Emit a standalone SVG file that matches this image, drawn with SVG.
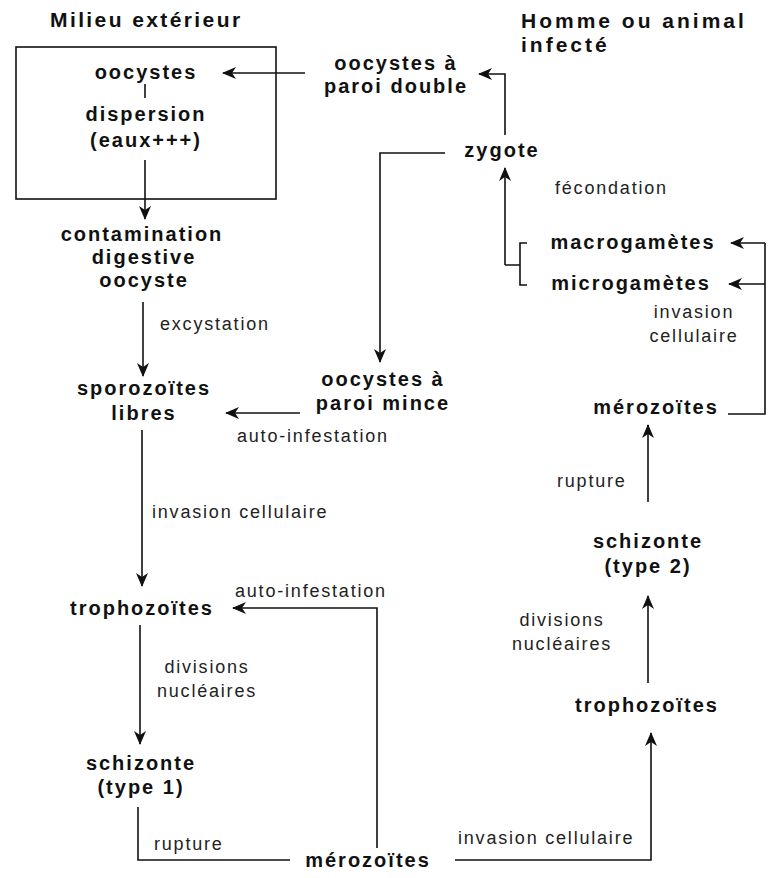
<svg xmlns="http://www.w3.org/2000/svg" width="777" height="878" viewBox="0 0 777 878">
<style>
.t{font-family:"Liberation Sans",Arial,sans-serif;font-weight:bold;font-size:21px;letter-spacing:2.4px;fill:#111}
.n{font-family:"Liberation Sans",Arial,sans-serif;font-weight:bold;font-size:20px;letter-spacing:2px;fill:#111;text-anchor:middle}
.l{font-family:"Liberation Sans",Arial,sans-serif;font-size:18px;letter-spacing:1.8px;fill:#222}
.c{fill:none;stroke:#111;stroke-width:1.6}
.a{marker-end:url(#ah)}
</style>
<defs>
<marker id="ah" viewBox="0 0 14 12" refX="13" refY="6" markerWidth="14" markerHeight="12" markerUnits="userSpaceOnUse" orient="auto">
<path d="M0,0 L14,6 L0,12 L4,6 z" fill="#111"/>
</marker>
</defs>
<rect width="777" height="878" fill="#fff"/>
<g id="titles">
<text class="t" x="50" y="27">Milieu extérieur</text>
<text class="t" x="521" y="28" style="letter-spacing:3px">Homme ou animal</text>
<text class="t" x="521" y="52" style="letter-spacing:3px">infecté</text>
</g>
<rect id="milieu-box" x="16" y="47" width="260" height="152" fill="none" stroke="#111" stroke-width="1.6"/>
<g id="connectors">
<path class="c" d="M145,84 V98"/>
<path class="c a" d="M145,160 V219"/>
<path class="c a" d="M305,73 H223"/>
<path class="c a" d="M505,135 V74 H479"/>
<path class="c a" d="M445,153 H380 V362"/>
<path class="c a" d="M505,265 V168"/>
<path class="c" d="M527,243 H520 V285 H527 M505,265 H520"/>
<path class="c a" d="M765,243 H731"/>
<path class="c a" d="M765,284 H729"/>
<path class="c" d="M728,414 H765 V243"/>
<path class="c a" d="M143,302 V376"/>
<path class="c a" d="M300,413 H226"/>
<path class="c a" d="M142,430 V586"/>
<path class="c a" d="M140,625 V744"/>
<path class="c" d="M138,807 V860 H290"/>
<path class="c a" d="M377,848 V608 H233"/>
<path class="c a" d="M455,860 H651 V733"/>
<path class="c a" d="M648,683 V596"/>
<path class="c a" d="M648,502 V425"/>
</g>
<g id="n-oocystes"><text class="n" x="146" y="79">oocystes</text></g>
<g id="n-dispersion"><text class="n" x="146" y="121">dispersion</text><text class="n" x="146" y="147">(eaux+++)</text></g>
<g id="n-contamination"><text class="n" x="142" y="241">contamination</text><text class="n" x="144" y="264">digestive</text><text class="n" x="144" y="287">oocyste</text></g>
<g id="l-excystation"><text class="l" x="160" y="330">excystation</text></g>
<g id="n-sporozoites"><text class="n" x="144" y="395">sporozoïtes</text><text class="n" x="144" y="420">libres</text></g>
<g id="l-invasion1"><text class="l" x="152" y="518">invasion cellulaire</text></g>
<g id="n-trophozoites1"><text class="n" x="142" y="615">trophozoïtes</text></g>
<g id="l-divisions1"><text class="l" x="207" y="673" text-anchor="middle">divisions</text><text class="l" x="207" y="697" text-anchor="middle">nucléaires</text></g>
<g id="n-schizonte1"><text class="n" x="141" y="770">schizonte</text><text class="n" x="141" y="794">(type 1)</text></g>
<g id="l-rupture1"><text class="l" x="154" y="850">rupture</text></g>
<g id="n-merozoites1"><text class="n" x="368" y="867">mérozoïtes</text></g>
<g id="l-auto2"><text class="l" x="235" y="597">auto-infestation</text></g>
<g id="n-oocystes-double"><text class="n" x="396" y="70">oocystes à</text><text class="n" x="396" y="93">paroi double</text></g>
<g id="n-zygote"><text class="n" x="502" y="157">zygote</text></g>
<g id="l-fecondation"><text class="l" x="555" y="194">fécondation</text></g>
<g id="n-macro"><text class="n" x="633" y="249">macrogamètes</text></g>
<g id="n-micro"><text class="n" x="631" y="290">microgamètes</text></g>
<g id="l-invasion3"><text class="l" x="694" y="318" text-anchor="middle">invasion</text><text class="l" x="694" y="342" text-anchor="middle">cellulaire</text></g>
<g id="n-oocystes-mince"><text class="n" x="383" y="386">oocystes à</text><text class="n" x="383" y="410">paroi mince</text></g>
<g id="l-auto1"><text class="l" x="237" y="442">auto-infestation</text></g>
<g id="n-merozoites2"><text class="n" x="656" y="414">mérozoïtes</text></g>
<g id="l-rupture2"><text class="l" x="557" y="487">rupture</text></g>
<g id="n-schizonte2"><text class="n" x="648" y="548">schizonte</text><text class="n" x="648" y="573">(type 2)</text></g>
<g id="l-divisions2"><text class="l" x="562" y="626" text-anchor="middle">divisions</text><text class="l" x="562" y="650" text-anchor="middle">nucléaires</text></g>
<g id="n-trophozoites2"><text class="n" x="647" y="712">trophozoïtes</text></g>
<g id="l-invasion2"><text class="l" x="458" y="844">invasion cellulaire</text></g>
</svg>
